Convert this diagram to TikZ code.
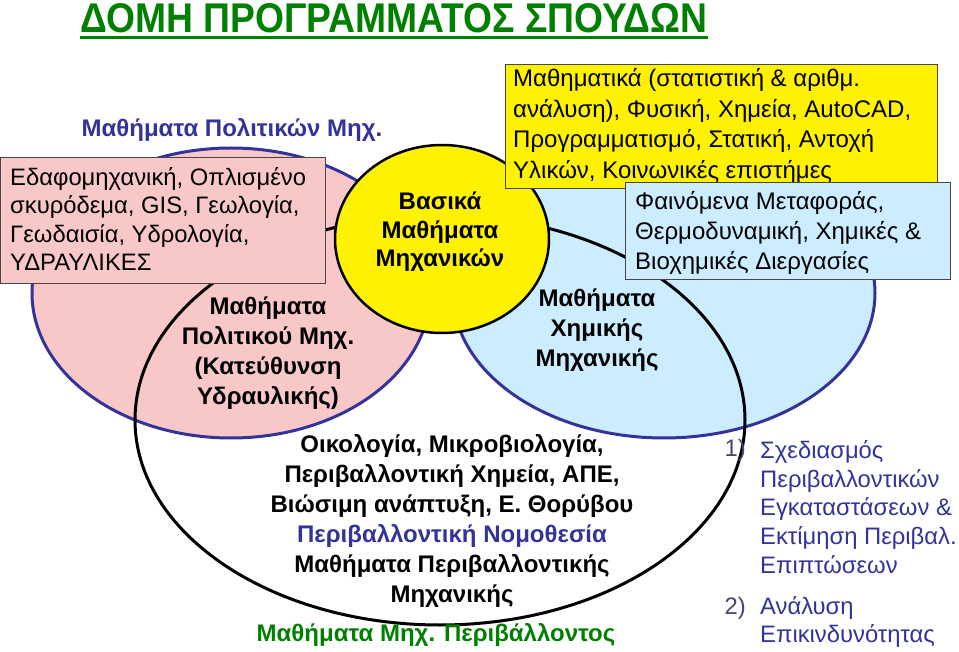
\documentclass[tikz,border=0pt]{standalone}
\usepackage{fontspec}
\setmainfont{Liberation Sans}
\usepackage{graphicx}
\usetikzlibrary{calc}
\definecolor{dblue}{RGB}{51,51,153}
\definecolor{numgray}{RGB}{70,70,110}
\definecolor{pinkfill}{RGB}{248,200,200}
\definecolor{bluefill}{RGB}{204,236,255}
\definecolor{ttlgreen}{RGB}{0,128,0}
\definecolor{boxline}{RGB}{70,70,70}
\begin{document}
\begin{tikzpicture}[x=1pt,y=-1pt,
  bold/.style={font=\fontsize{24}{30}\selectfont\bfseries, inner sep=0pt, align=center},
  infobox/.style={draw=boxline, line width=1.3pt, anchor=north west, inner sep=0pt},
  boxtxt/.style={anchor=west, inner sep=0pt, align=left},
  setline/.style={draw=dblue, line width=3pt},
  listtxt/.style={font=\fontsize{23.8}{28.7}\selectfont, text=dblue, inner sep=0pt, align=left}
]
\useasboundingbox (0,0) rectangle (959,652);
\fill[white] (0,0) rectangle (959,652);

% sets
\draw[setline, fill=pinkfill] (231,293) ellipse [x radius=199, y radius=145];
\draw[setline, fill=bluefill] (664,293) ellipse [x radius=211, y radius=145];
\draw[black, line width=3pt] (440,420) ellipse [x radius=305, y radius=205];
\draw[black, line width=2.5pt, fill=yellow] (442,239) ellipse [x radius=107, y radius=94];

% title
\node[anchor=south west, inner sep=0pt, text=ttlgreen] (ttl) at (80,33)
  {\resizebox{627pt}{29pt}{\bfseries ΔΟΜΗ ΠΡΟΓΡΑΜΜΑΤΟΣ ΣΠΟΥΔΩΝ}};
\draw[ttlgreen, line width=3pt] ([yshift=-5pt]ttl.south west) -- ([yshift=-5pt]ttl.south east);

% set labels
\node[bold, text=dblue] (civil) at (232,130) {Μαθήματα Πολιτικών Μηχ.};

% boxes
\node[infobox, fill=pinkfill, minimum width=325pt, minimum height=126pt] (pbox) at (0,157) {};
\node[boxtxt, font=\fontsize{23.8}{28.5}\selectfont] (ptxt) at (10,219)
  {Εδαφομηχανική, Οπλισμένο\\σκυρόδεμα, GIS, Γεωλογία,\\Γεωδαισία, Υδρολογία,\\ΥΔΡΑΥΛΙΚΕΣ};
\node[infobox, fill=yellow, minimum width=432pt, minimum height=124pt] (ybox) at (505,64) {};
\node[boxtxt, font=\fontsize{24}{30.5}\selectfont] (ytxt) at (513,126)
  {Μαθηματικά (στατιστική \& αριθμ.\\ανάλυση), Φυσική, Χημεία, AutoCAD,\\Προγραμματισμό, Στατική, Αντοχή\\Υλικών, Κοινωνικές επιστήμες};
\node[infobox, fill=bluefill, minimum width=325pt, minimum height=97pt] (bbox) at (625,182) {};
\node[boxtxt, font=\fontsize{24}{30}\selectfont] (btxt) at (635,233)
  {Φαινόμενα Μεταφοράς,\\Θερμοδυναμική, Χημικές \&\\Βιοχημικές Διεργασίες};

% texts inside sets
\node[bold, font=\fontsize{24}{28.5}\selectfont\bfseries] (basic) at (440,232) {Βασικά\\Μαθήματα\\Μηχανικών};
\node[bold] (civdir) at (268,353) {Μαθήματα\\Πολιτικού Μηχ.\\(Κατεύθυνση\\Υδραυλικής)};
\node[bold] (chem) at (597,330) {Μαθήματα\\Χημικής\\Μηχανικής};
\node[bold] (env) at (452,521) {Οικολογία, Μικροβιολογία,\\Περιβαλλοντική Χημεία, ΑΠΕ,\\Βιώσιμη ανάπτυξη, Ε. Θορύβου\\\textcolor{dblue}{Περιβαλλοντική Νομοθεσία}\\Μαθήματα Περιβαλλοντικής\\Μηχανικής};
\node[bold, text=ttlgreen] (envlab) at (436,635) {Μαθήματα Μηχ. Περιβάλλοντος};

% list
\node[listtxt, text=numgray, anchor=east] (n1) at (746,450) {1)};
\node[listtxt, anchor=west] (l1) at (760,507) {Σχεδιασμός\\Περιβαλλοντικών\\Εγκαταστάσεων \&\\Εκτίμηση Περιβαλ.\\Επιπτώσεων};
\node[listtxt, text=numgray, anchor=east] (n2) at (746,608) {2)};
\node[listtxt, anchor=west] (l2) at (760,622) {Ανάλυση\\Επικινδυνότητας};
\end{tikzpicture}
\end{document}
